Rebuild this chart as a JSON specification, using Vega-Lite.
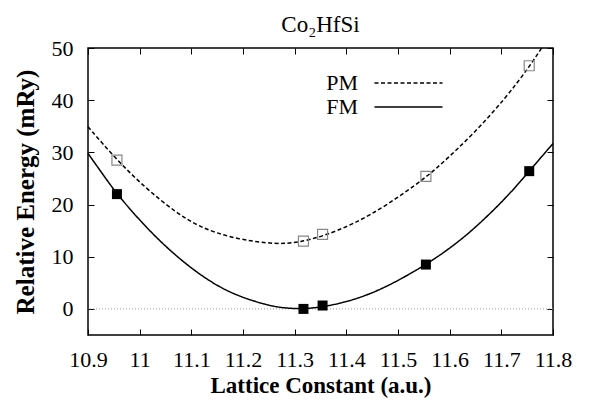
{
  "$schema": "https://vega.github.io/schema/vega-lite/v6.json",
  "width": 465,
  "height": 287,
  "autosize": "none",
  "padding": {"left": 88, "top": 48, "right": 43, "bottom": 73},
  "title": {"text": "Co₂HfSi", "anchor": "middle", "offset": -23, "baseline": "bottom", "fontSize": 23, "font": "Liberation Serif", "fontWeight": "normal", "color": "#000"},
  "config": {
    "view": {"stroke": "#000", "strokeWidth": 1.5},
    "font": "Liberation Serif",
    "axis": {"domain": false, "grid": false, "labelFont": "Liberation Serif", "labelFontSize": 22, "labelColor": "#000", "labelOverlap": false, "labelFlush": false, "titleFont": "Liberation Serif", "titleFontSize": 23, "titleFontWeight": "bold", "titleColor": "#000", "tickColor": "#000", "tickSize": -6, "tickWidth": 1}
  },
  "datasets": {
    "curve": [
      {"a": 10.9, "E": 29.8, "series": "FM"},
      {"a": 10.93, "E": 25.6, "series": "FM"},
      {"a": 10.956, "E": 22.0, "series": "FM"},
      {"a": 11.012, "E": 15.6, "series": "FM"},
      {"a": 11.07, "E": 10.1, "series": "FM"},
      {"a": 11.128, "E": 5.7, "series": "FM"},
      {"a": 11.181, "E": 2.75, "series": "FM"},
      {"a": 11.246, "E": 0.7, "series": "FM"},
      {"a": 11.28, "E": 0.15, "series": "FM"},
      {"a": 11.317, "E": 0.0, "series": "FM"},
      {"a": 11.354, "E": 0.35, "series": "FM"},
      {"a": 11.413, "E": 1.6, "series": "FM"},
      {"a": 11.478, "E": 4.15, "series": "FM"},
      {"a": 11.554, "E": 8.45, "series": "FM"},
      {"a": 11.601, "E": 11.65, "series": "FM"},
      {"a": 11.646, "E": 15.2, "series": "FM"},
      {"a": 11.71, "E": 21.3, "series": "FM"},
      {"a": 11.754, "E": 26.4, "series": "FM"},
      {"a": 11.8, "E": 31.7, "series": "FM"},
      {"a": 10.9, "E": 34.9, "series": "PM"},
      {"a": 10.956, "E": 28.5, "series": "PM"},
      {"a": 11.012, "E": 23.1, "series": "PM"},
      {"a": 11.07, "E": 18.5, "series": "PM"},
      {"a": 11.117, "E": 15.6, "series": "PM"},
      {"a": 11.181, "E": 13.5, "series": "PM"},
      {"a": 11.246, "E": 12.6, "series": "PM"},
      {"a": 11.278, "E": 12.5, "series": "PM"},
      {"a": 11.31, "E": 12.8, "series": "PM"},
      {"a": 11.354, "E": 13.9, "series": "PM"},
      {"a": 11.413, "E": 16.2, "series": "PM"},
      {"a": 11.478, "E": 19.8, "series": "PM"},
      {"a": 11.554, "E": 25.2, "series": "PM"},
      {"a": 11.581, "E": 27.5, "series": "PM"},
      {"a": 11.646, "E": 33.5, "series": "PM"},
      {"a": 11.71, "E": 40.6, "series": "PM"},
      {"a": 11.754, "E": 46.4, "series": "PM"},
      {"a": 11.778, "E": 50.0, "series": "PM"}
    ],
    "points": [
      {"a": 10.956, "E": 22.0, "series": "FM"},
      {"a": 11.317, "E": 0.0, "series": "FM"},
      {"a": 11.354, "E": 0.65, "series": "FM"},
      {"a": 11.554, "E": 8.5, "series": "FM"},
      {"a": 11.754, "E": 26.4, "series": "FM"},
      {"a": 10.956, "E": 28.5, "series": "PM"},
      {"a": 11.317, "E": 13.0, "series": "PM"},
      {"a": 11.354, "E": 14.3, "series": "PM"},
      {"a": 11.554, "E": 25.4, "series": "PM"},
      {"a": 11.754, "E": 46.6, "series": "PM"}
    ],
    "zero": [{"z": 0}]
  },
  "layer": [
    {
      "data": {"name": "zero"},
      "mark": {"type": "rule", "color": "#999", "strokeDash": [1, 2], "strokeWidth": 1},
      "encoding": {
        "y": {"field": "z", "type": "quantitative", "scale": {"domain": [-5, 50], "nice": false, "zero": false}, "axis": {"orient": "right", "labels": false, "title": null, "values": [0, 10, 20, 30, 40, 50]}}
      }
    },
    {
      "data": {"name": "curve"},
      "mark": {"type": "line", "interpolate": "basis", "color": "#000", "strokeWidth": 1.5},
      "encoding": {
        "x": {"field": "a", "type": "quantitative", "scale": {"domain": [10.9, 11.8], "nice": false, "zero": false}, "axis": {"orient": "bottom", "values": [10.9, 11, 11.1, 11.2, 11.3, 11.4, 11.5, 11.6, 11.7, 11.8], "format": "~g", "title": "Lattice Constant (a.u.)", "labelPadding": 20, "titlePadding": 4}},
        "y": {"field": "E", "type": "quantitative", "scale": {"domain": [-5, 50], "nice": false, "zero": false}, "axis": {"orient": "left", "values": [0, 10, 20, 30, 40, 50], "title": "Relative Energy (mRy)", "labelPadding": 21, "titlePadding": 13, "titleFontSize": 25}},
        "strokeDash": {"field": "series", "type": "nominal", "scale": {"domain": ["PM", "FM"], "range": [[4, 2.5], [1, 0]]}, "legend": {"orient": "none", "legendX": 309.5, "legendY": 24, "title": null, "symbolType": "M-4,0H4", "symbolSize": 289, "symbolStrokeWidth": 1.5, "symbolStrokeColor": "#000", "symbolFillColor": "transparent", "labelFont": "Liberation Serif", "labelFontSize": 22, "labelColor": "#000", "labelAlign": "right", "labelOffset": -61.5, "rowPadding": 2}}
      }
    },
    {
      "data": {"name": "points"},
      "transform": [{"filter": "datum.series == 'FM'"}],
      "mark": {"type": "square", "filled": true, "color": "#000", "size": 100, "opacity": 1},
      "encoding": {
        "x": {"field": "a", "type": "quantitative", "axis": {"orient": "top", "labels": false, "title": null, "values": [10.9, 11, 11.1, 11.2, 11.3, 11.4, 11.5, 11.6, 11.7, 11.8]}},
        "y": {"field": "E", "type": "quantitative", "axis": null}
      }
    },
    {
      "data": {"name": "points"},
      "transform": [{"filter": "datum.series == 'PM'"}],
      "mark": {"type": "square", "filled": false, "stroke": "#888", "strokeWidth": 1.2, "size": 100, "opacity": 1},
      "encoding": {
        "x": {"field": "a", "type": "quantitative", "axis": null},
        "y": {"field": "E", "type": "quantitative", "axis": null}
      }
    }
  ],
  "resolve": {"axis": {"x": "independent", "y": "independent"}}
}
